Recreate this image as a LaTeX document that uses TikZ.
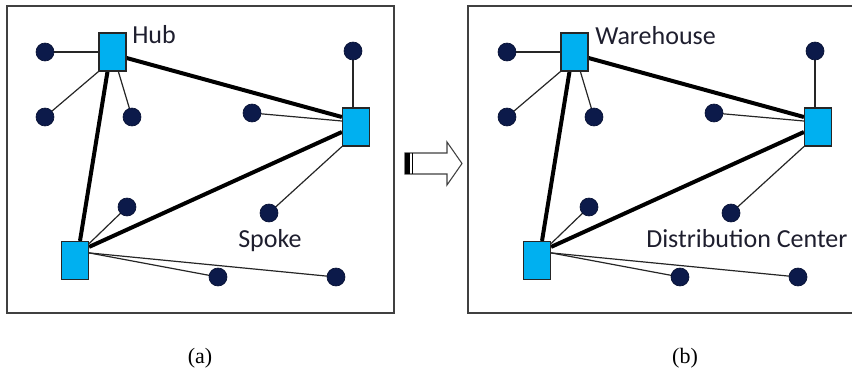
\documentclass[tikz,border=0pt]{standalone}
\usepackage{fontspec}
\setmainfont{Liberation Serif}
\newfontfamily\labelfont{Carlito}
\usetikzlibrary{calc}
\definecolor{hubblue}{HTML}{00B0F0}
\definecolor{dotnavy}{HTML}{0C1A4A}
\definecolor{framegray}{HTML}{404040}
\definecolor{labelcol}{HTML}{1E1E2E}
\pgfdeclarelayer{bg}
\pgfsetlayers{bg,main}
\tikzset{
  hubsq/.style={draw=black!85, line width=0.9pt, fill=hubblue, minimum width=20.25pt, minimum height=28.5pt, inner sep=0pt},
  spokedot/.style={circle, draw=dotnavy!70!black, line width=0.5pt, fill=dotnavy, minimum size=13.5pt, inner sep=0pt},
  thickedge/.style={line width=3pt, black},
  thinedge/.style={line width=0.9pt, black!85},
  panelframe/.style={draw=framegray, line width=1.5pt},
  lbl/.style={font=\labelfont\fontsize{19.5}{23}\selectfont, text=labelcol, inner sep=0pt, anchor=base west},
  capt/.style={font=\fontsize{16.5}{20}\selectfont, inner sep=0pt, anchor=base},
  arrowbody/.style={draw=black!75, line width=0.8pt, fill=white}
}
\newcommand\hubpanel[2]{%
\begin{scope}[xshift=#2*0.75pt]
  \node[hubsq] (#1h) at (112.5,52) {};
  \node[hubsq] (#1r) at (356,127) {};
  \node[hubsq] (#1s) at (75,260.5) {};
  \node[spokedot] (#1da) at (45,52) {};
  \node[spokedot] (#1db) at (45,117) {};
  \node[spokedot] (#1dc) at (132,117) {};
  \node[spokedot] (#1dd) at (353,51) {};
  \node[spokedot] (#1de) at (252,113) {};
  \node[spokedot] (#1df) at (269,213) {};
  \node[spokedot] (#1dg) at (127,207) {};
  \node[spokedot] (#1dh) at (218,277) {};
  \node[spokedot] (#1di) at (336,277) {};
  \begin{pgfonlayer}{bg}
    \draw[thickedge] ([yshift=-4.5pt]#1h.east) -- ([yshift=7.5pt]#1r.west);
    \draw[thickedge] ([xshift=-3.75pt]#1h.south) -- ([xshift=3.75pt]#1s.north);
    \draw[thickedge] ([yshift=-4.5pt]#1s.north east) -- ([yshift=-3.75pt]#1r.west);
    \draw[thinedge] (#1da.center) -- (#1h.west);
    \draw[thinedge] (#1db.center) -- (#1h.south west);
    \draw[thinedge] (#1dc.center) -- (#1h);
    \draw[thinedge] (#1dd.center) -- (#1dd.center |- #1r.north);
    \draw[thinedge] (#1de.center) -- ([yshift=4.5pt]#1r.west);
    \draw[thinedge] (#1df.center) -- (#1r.south west);
    \draw[thinedge] (#1dg.center) -- ([yshift=-2pt]#1s.north east);
    \draw[thinedge] (#1dh.center) -- ([yshift=-9pt]#1s.north east);
    \draw[thinedge] (#1di.center) -- ([yshift=-9pt]#1s.north east);
  \end{pgfonlayer}
\end{scope}}
\begin{document}
\begin{tikzpicture}[x=0.75pt, y=-0.75pt]
  \useasboundingbox (0,0) rectangle (852,371);
  % frames (the right one runs past the page edge, as in the reference)
  \draw[panelframe] (7,6) rectangle (394,313);
  \draw[panelframe] (468,6) rectangle (858,313);
  % panels
  \hubpanel{a}{0}
  \hubpanel{b}{462}
  % labels
  \node[lbl] (hublbl) at (132,43) {Hub};
  \node[lbl] (spokelbl) at (238,247) {Spoke};
  \node[lbl] (whlbl) at (595,44) {Warehouse};
  \node[lbl] (dclbl) at (646,247) {Distribution Center};
  % arrow between panels
  \draw[arrowbody] (405,153) -- (447,153) -- (447,142) -- (462,163.5) -- (447,185) -- (447,174) -- (405,174) -- cycle;
  \fill[black] (405,153) rectangle (409.5,174);
  \draw[black, line width=0.9pt] (412.5,153) -- (412.5,174);
  % captions
  \node[capt] (capa) at (200,363) {(a)};
  \node[capt] (capb) at (685,363) {(b)};
\end{tikzpicture}
\end{document}
